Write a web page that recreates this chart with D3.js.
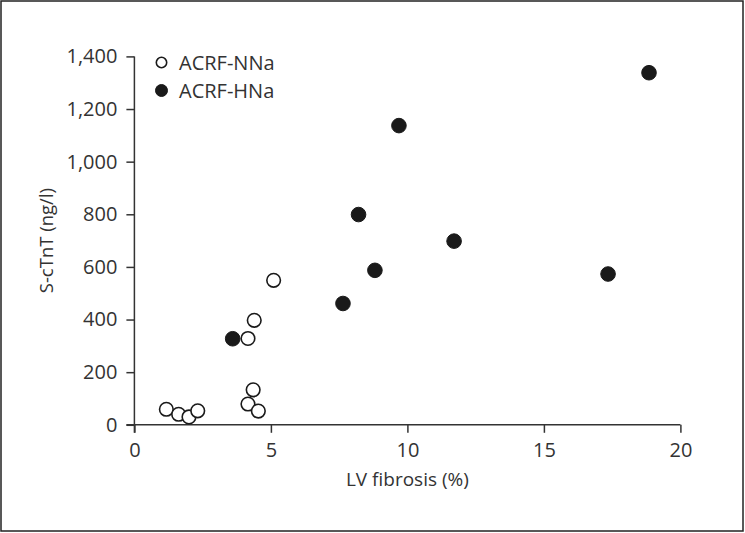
<!DOCTYPE html>
<html><head><meta charset="utf-8">
<script src="https://cdn.jsdelivr.net/npm/d3@7"></script>
<style>
html,body{margin:0;padding:0;background:#fff;}
svg{display:block;font-family:"Open Sans",sans-serif;}
</style></head>
<body>
<svg id="chart" width="745" height="533"></svg>
<script>
const seriesNames = ["ACRF-NNa", "ACRF-HNa"];
const nnaX = [1.17, 1.62, 2.0, 2.32, 4.16, 4.35, 4.54, 4.16, 4.39, 5.10];
const nnaY = [59, 40, 30, 53, 79, 133, 52, 328, 397, 549];
const hnaX = [3.60, 7.64, 8.21, 8.81, 9.69, 11.71, 17.35, 18.85];
const hnaY = [327, 461, 799, 587, 1137, 698, 573, 1338];
const xTicks = [0, 5, 10, 15, 20];
const yTicks = [0, 200, 400, 600, 800, 1000, 1200, 1400];
const xTitle = "LV fibrosis (%)";
const yTitle = "S-cTnT (ng/l)";

const svg = d3.select("#chart");
const ink = "#333";
svg.append("rect").attr("x",1).attr("y",1).attr("width",742).attr("height",530)
  .attr("fill","none").attr("stroke","#222").attr("stroke-width",1.5);

const x = d3.scaleLinear().domain([0,20]).range([134.4,680.4]);
const y = d3.scaleLinear().domain([0,1400]).range([424.8,56.4]);

const xAxis = svg.append("g").attr("transform",`translate(0,${y(0)})`)
  .call(d3.axisBottom(x).tickValues(xTicks).tickSize(8).tickPadding(10).tickFormat(d3.format("d")));
const yAxis = svg.append("g").attr("transform",`translate(${x(0)},0)`)
  .call(d3.axisLeft(y).tickValues(yTicks).tickSize(8).tickPadding(9).tickFormat(d3.format(",")));
[xAxis,yAxis].forEach(g=>{
  g.attr("font-size",null).attr("font-family",null);
  g.select(".domain").remove();
  g.selectAll("line").attr("stroke",ink).attr("stroke-width",1.5);
  g.selectAll("text").attr("fill",ink).style("font-size","20px").style("font-family","'Open Sans',sans-serif");
});
// axis lines extended to tick ends
svg.append("line").attr("x1",x(0)-8).attr("x2",x(20)).attr("y1",y(0)).attr("y2",y(0))
  .attr("stroke",ink).attr("stroke-width",1.5);
svg.append("line").attr("x1",x(0)).attr("x2",x(0)).attr("y1",y(0)+8).attr("y2",y(1400))
  .attr("stroke",ink).attr("stroke-width",1.5);

svg.append("text").attr("x",(x(0)+x(20))/2).attr("y",486).attr("text-anchor","middle")
  .attr("fill",ink).style("font-size","19px").text(xTitle);
svg.append("text").attr("transform",`translate(53,${(y(0)+y(1400))/2}) rotate(-90)`)
  .attr("text-anchor","middle").attr("fill",ink).style("font-size","18.5px").text(yTitle);

const nna = nnaX.map((v,i)=>({x:v,y:nnaY[i]}));
const hna = hnaX.map((v,i)=>({x:v,y:hnaY[i]}));
svg.append("g").selectAll("circle").data(hna).join("circle")
  .attr("cx",d=>x(d.x)).attr("cy",d=>y(d.y)).attr("r",7.3)
  .attr("fill","#1a1a1a").attr("stroke","#1a1a1a").attr("stroke-width",1);
svg.append("g").selectAll("circle").data(nna).join("circle")
  .attr("cx",d=>x(d.x)).attr("cy",d=>y(d.y)).attr("r",6.8)
  .attr("fill","#fff").attr("stroke","#1a1a1a").attr("stroke-width",1.6);

// legend
const leg = svg.append("g");
seriesNames.forEach((name,i)=>{
  const cy = 62.5 + i*28;
  leg.append("circle").attr("cx",161.5).attr("cy",cy).attr("r",i===0?5.2:6)
    .attr("fill",i===0?"#fff":"#1a1a1a").attr("stroke","#1a1a1a").attr("stroke-width",i===0?1.6:1);
  leg.append("text").attr("x",179).attr("y",cy+7).attr("fill",ink)
    .style("font-size","20px").text(name);
});
</script>
</body></html>
